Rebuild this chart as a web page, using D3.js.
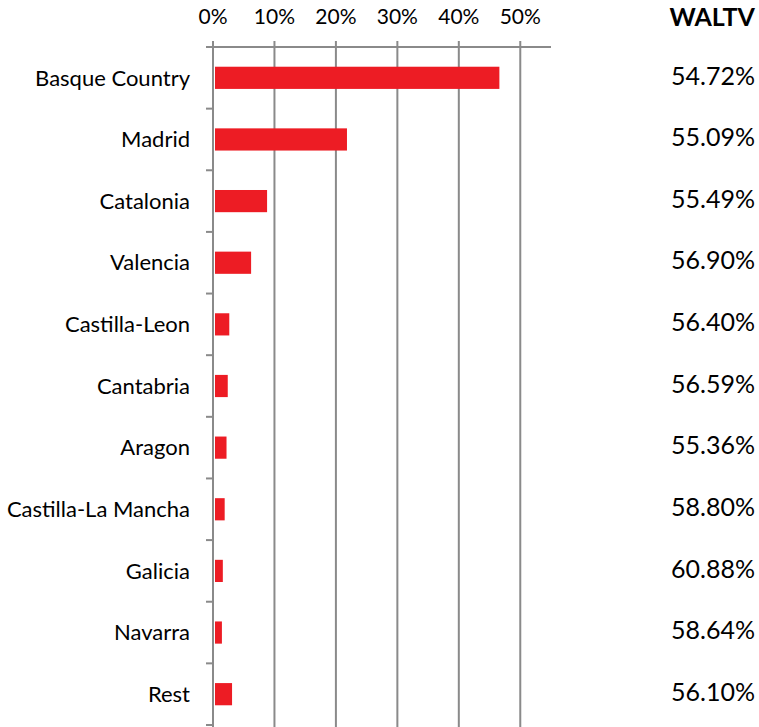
<!DOCTYPE html>
<html>
<head>
<meta charset="utf-8">
<script src="https://cdn.jsdelivr.net/npm/d3@7"></script>
<style>
  body { margin: 0; background: #fff; }
  text { font-family: Lato, "Open Sans", sans-serif; fill: #000; }
</style>
</head>
<body>
<div id="chart"></div>
<script>
// regions, share of pool (%) and WALTV per region
const regions = ["Basque Country", "Madrid", "Catalonia", "Valencia", "Castilla-Leon",
                 "Cantabria", "Aragon", "Castilla-La Mancha", "Galicia", "Navarra", "Rest"];
const shares = [46.6, 21.8, 8.8, 6.2, 2.65, 2.4, 2.2, 1.9, 1.6, 1.45, 3.1];
const waltv = ["54.72%", "55.09%", "55.49%", "56.90%", "56.40%", "56.59%",
               "55.36%", "58.80%", "60.88%", "58.64%", "56.10%"];
const xTicks = [0, 10, 20, 30, 40, 50];

const W = 759, H = 727;
const margin = { top: 47, left: 213, right: 208, bottom: 2 };
const width = 551 - margin.left,
      height = 725 - margin.top;

const svg = d3.select("#chart").append("svg")
    .attr("width", W)
    .attr("height", H);

const g = svg.append("g")
    .attr("transform", `translate(${margin.left},${margin.top})`);

const x = d3.scaleLinear().domain([0, 55]).range([0, width]);
const y = d3.scaleBand().domain(regions).range([0, height]).paddingInner(0.64).paddingOuter(0.32);

const grey = "#8a8a8a";

// vertical gridlines
g.selectAll(".grid")
    .data(xTicks)
    .enter().append("line")
    .attr("x1", d => x(d)).attr("x2", d => x(d))
    .attr("y1", -6).attr("y2", H - margin.top)
    .attr("stroke", grey).attr("stroke-width", 2);

// top axis line
g.append("line")
    .attr("x1", -7).attr("x2", width)
    .attr("y1", 0).attr("y2", 0)
    .attr("stroke", grey).attr("stroke-width", 2);

// category ticks on the left axis
const bounds = d3.range(regions.length + 1).map(i => i * y.step());
g.selectAll(".ctick")
    .data(bounds)
    .enter().append("line")
    .attr("x1", -7).attr("x2", 0)
    .attr("y1", d => d).attr("y2", d => d)
    .attr("stroke", grey).attr("stroke-width", 2);

// x tick labels
g.selectAll(".xlabel")
    .data(xTicks)
    .enter().append("text")
    .attr("x", d => x(d))
    .attr("y", -23)
    .attr("text-anchor", "middle")
    .style("font-size", "21px")
    .text(d => d + "%");

// bars
g.selectAll(".bar")
    .data(regions)
    .enter().append("rect")
    .attr("x", 2)
    .attr("y", d => y(d))
    .attr("width", (d, i) => x(shares[i]) - 2)
    .attr("height", y.bandwidth())
    .attr("fill", "#ED1C24");

// category labels
g.selectAll(".ylabel")
    .data(regions)
    .enter().append("text")
    .attr("x", -23)
    .attr("y", d => y(d) + y.bandwidth() / 2)
    .attr("dy", "0.35em")
    .attr("text-anchor", "end")
    .style("font-size", "22px")
    .text(d => d);

// WALTV column
svg.append("text")
    .attr("x", 755).attr("y", 26)
    .attr("text-anchor", "end")
    .style("font-size", "25px")
    .style("font-weight", "bold")
    .text("WALTV");

svg.selectAll(".waltv")
    .data(regions)
    .enter().append("text")
    .attr("x", 755)
    .attr("y", d => margin.top + y(d) + y.bandwidth() / 2 - 2)
    .attr("dy", "0.35em")
    .attr("text-anchor", "end")
    .style("font-size", "25px")
    .text((d, i) => waltv[i]);
</script>
</body>
</html>
